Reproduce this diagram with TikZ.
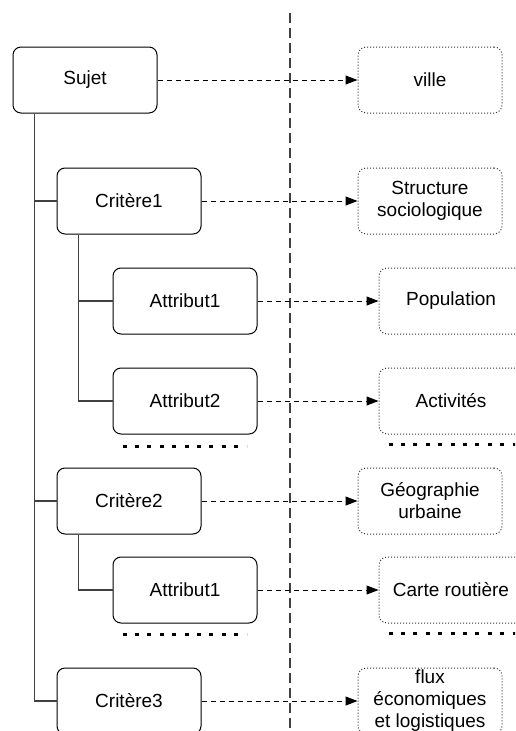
\documentclass[tikz,border=0pt]{standalone}
\usepackage{fontspec}
\setmainfont{Liberation Sans}
\usetikzlibrary{positioning,arrows.meta}

\begin{document}
\begin{tikzpicture}[
                x=1pt, y=-1pt,
                every node/.append style={font=\fontsize{19}{22}\selectfont, align=center, inner sep=2pt},
                tache/.style={draw, rounded corners=8pt, line width=1pt, minimum width=144pt, minimum height=66pt},
                valeur/.style={tache, draw=black!80, dash pattern=on 1pt off 2pt},
                lien/.style={-{Triangle[length=12pt,width=9pt]}, line width=1pt, dash pattern=on 5pt off 4pt},
                branche/.style={draw=black!75, line width=1.1pt},
                separateur/.style={draw=black!75, line width=1.2pt, dash pattern=on 10pt off 5pt},
                suite/.style={line width=2.8pt, dash pattern=on 4pt off 8.4pt}
            ]
                \useasboundingbox (0,0) rectangle (515,731);
                \clip (0,0) rectangle (515,731);

                \draw[separateur] (290,13) -- (290,731);

                % arbre de gauche
                \node[tache] (sujet)  at (85,80)   {Sujet};
                \node[tache] (crit1)  at (129,201) {Critère1};
                \node[tache] (attr11) at (185,301) {Attribut1};
                \node[tache] (attr12) at (185,401) {Attribut2};
                \node[tache] (crit2)  at (129,501) {Critère2};
                \node[tache] (attr21) at (185,590) {Attribut1};
                \node[tache] (crit3)  at (129,701) {Critère3};

                % valeurs
                \node[valeur] (ville)  [right=200pt of sujet]  {ville};
                \node[valeur] (socio)  [right=156pt of crit1]  {Structure\\sociologique};
                \node[valeur] (popu)   [right=121pt of attr11] {Population};
                \node[valeur] (activ)  [right=121pt of attr12] {Activités};
                \node[valeur] (geo)    [right=156pt of crit2]  {Géographie\\urbaine};
                \node[valeur] (carte)  [right=121pt of attr21] {Carte routière};
                \node[valeur] (flux)   [right=156pt of crit3]  {flux\\économiques\\et logistiques};

                \coordinate (rac0) at ([xshift=22pt]sujet.south west);
                \coordinate (rac1) at ([xshift=22pt]crit1.south west);
                \coordinate (rac2) at ([xshift=22pt]crit2.south west);

                \draw[branche] (rac0) |- (crit1.west) (rac0) |- (crit2.west) (rac0) |- (crit3.west);
                \draw[branche] (rac1) |- (attr11.west) (rac1) |- (attr12.west);
                \draw[branche] (rac2) |- (attr21.west);

                \draw[lien] (sujet) -- (ville);
                \draw[lien] (crit1) -- (socio);
                \draw[lien] (attr11) -- (popu);
                \draw[lien] (attr12) -- (activ);
                \draw[lien] (crit2) -- (geo);
                \draw[lien] (attr21) -- (carte);
                \draw[lien] (crit3) -- (flux);

                % pointillés de suite
                \coordinate (s1) at ([yshift=-12pt,xshift=10pt]attr12.south west);
                \coordinate (s2) at ([yshift=-10pt,xshift=10pt]activ.south west);
                \coordinate (s3) at ([yshift=-11pt,xshift=10pt]attr21.south west);
                \coordinate (s4) at ([yshift=-10pt,xshift=10pt]carte.south west);
                \draw[suite] (s1) -- ++(124,0);
                \draw[suite] (s2) -- ++(130,0);
                \draw[suite] (s3) -- ++(124,0);
                \draw[suite] (s4) -- ++(130,0);
            \end{tikzpicture}
\end{document}
